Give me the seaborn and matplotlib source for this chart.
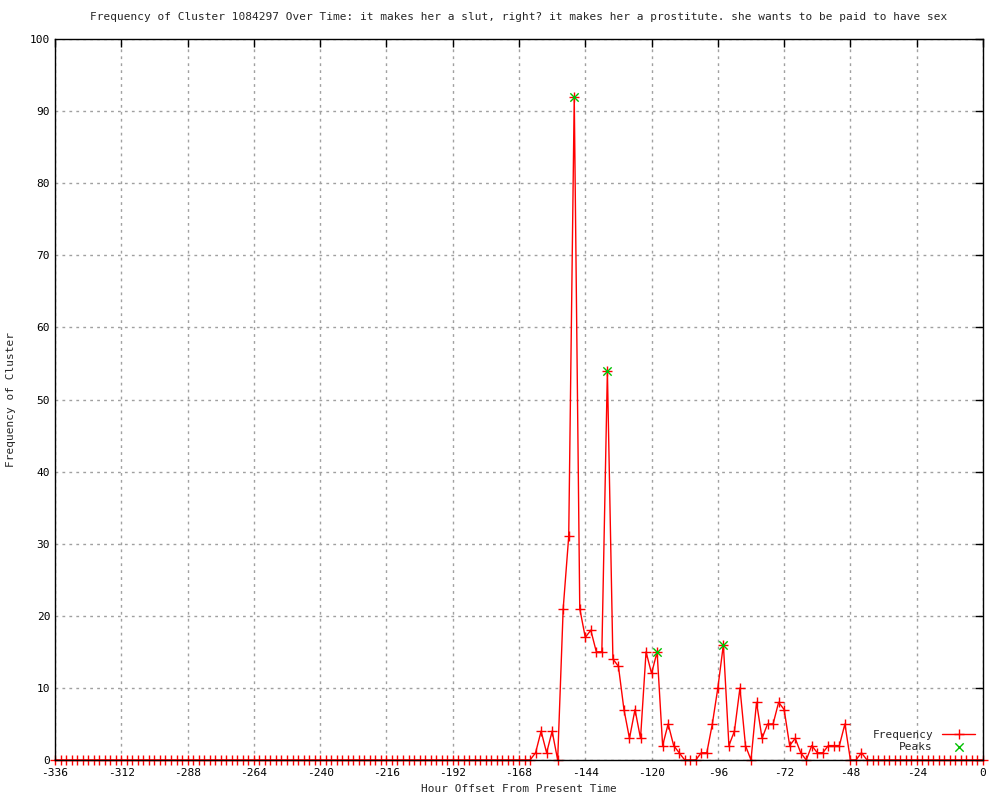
import pandas as pd
import matplotlib.pyplot as plt
import seaborn as sns

# Hour offsets (every 2 hours) and cluster frequencies
hours = list(range(-336, 1, 2))
frequency = [
    0, 0, 0, 0, 0, 0, 0, 0, 0, 0, 0, 0, 0, 0, 0, 0, 0, 0, 0, 0,   # -336 .. -298
    0, 0, 0, 0, 0, 0, 0, 0, 0, 0, 0, 0, 0, 0, 0, 0, 0, 0, 0, 0,   # -296 .. -258
    0, 0, 0, 0, 0, 0, 0, 0, 0, 0, 0, 0, 0, 0, 0, 0, 0, 0, 0, 0,   # -256 .. -218
    0, 0, 0, 0, 0, 0, 0, 0, 0, 0, 0, 0, 0, 0, 0, 0, 0, 0, 0, 0,   # -216 .. -178
    0, 0, 0, 0, 0, 0, 0,                                           # -176 .. -164
    1, 4, 1, 4, 0, 21, 31, 92, 21, 17, 18, 15, 15, 54, 14, 13,     # -162 .. -132
    7, 3, 7, 3, 15, 12, 15, 2, 5, 2, 1, 0, 0, 0, 1, 1,             # -130 .. -100
    5, 10, 16, 2, 4, 10, 2, 0, 8, 3, 5, 5, 8, 7, 2, 3,             # -98 .. -68
    1, 0, 2, 1, 1, 2, 2, 2, 5, 0, 0, 1,                            # -66 .. -44
    0, 0, 0, 0, 0, 0, 0, 0, 0, 0, 0, 0, 0, 0, 0, 0, 0, 0, 0, 0,   # -42 .. -4
    0, 0,                                                          # -2 .. 0
]
peak_hours = [-148, -136, -118, -94]
peak_values = [92, 54, 15, 16]

df = pd.DataFrame({"hour": hours, "freq": frequency})
peaks = pd.DataFrame({"hour": peak_hours, "freq": peak_values})

sns.set_style("white")
plt.rcParams["font.family"] = ["DejaVu Sans Mono"]
plt.rcParams["axes.unicode_minus"] = False

fig = plt.figure(figsize=(10, 8), dpi=100)
ax = fig.add_axes([0.055, 0.05, 0.928, 0.90125])

sns.lineplot(data=df, x="hour", y="freq", ax=ax, color="#ff0000", linewidth=1,
             marker="+", markersize=7, markeredgewidth=1, markeredgecolor="#ff0000",
             label="Frequency", clip_on=False, zorder=4)
sns.scatterplot(data=peaks, x="hour", y="freq", ax=ax, color="#00c000", marker="x",
                s=36, linewidth=1, label="Peaks", zorder=5)

ax.set_xlim(-336, 0)
ax.set_ylim(0, 100)
ax.set_xticks(range(-336, 1, 24))
ax.set_yticks(range(0, 101, 10))
ax.tick_params(direction="in", length=6, width=1, labelsize=8, top=True, right=True,
               colors="black")
ax.tick_params(axis="x", pad=6)
ax.grid(True, color="#a0a0a0", linestyle=(0, (2, 3)), linewidth=1)
for s in ax.spines.values():
    s.set_color("black")
    s.set_linewidth(1)
    s.set_zorder(6)

ax.set_title("Frequency of Cluster 1084297 Over Time: it makes her a slut, right? "
             "it makes her a prostitute. she wants to be paid to have sex",
             fontsize=8, pad=14)
ax.set_xlabel("Hour Offset From Present Time", fontsize=8, labelpad=4)
ax.set_ylabel("Frequency of Cluster", fontsize=8, labelpad=10)

leg = ax.legend(loc="lower right", frameon=False, markerfirst=False, fontsize=8,
                handlelength=3, borderaxespad=0.3, labelspacing=0.2)

plt.savefig("out.png", dpi=100)
